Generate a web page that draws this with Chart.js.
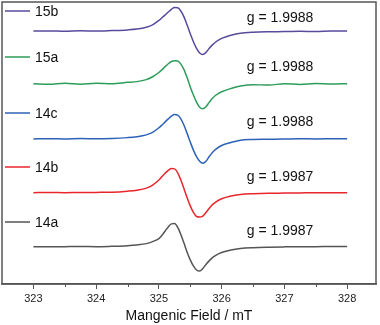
<!DOCTYPE html>
<html>
<head>
<meta charset="utf-8">
<script src="https://cdn.jsdelivr.net/npm/chart.js@4"></script>
<style>
  html, body { margin: 0; padding: 0; background: #fff; }
  canvas { display: block; }
</style>
</head>
<body>
<canvas id="epr" width="380" height="325"></canvas>
<script>
// magnetic field samples (mT), shared by all spectra
const fields = [323.0, 323.25, 323.5, 323.75, 324.0, 324.25, 324.5, 324.65, 324.8, 324.9,
  325.0, 325.05, 325.1, 325.15, 325.2, 325.25, 325.3, 325.35, 325.4, 325.45,
  325.5, 325.55, 325.6, 325.65, 325.7, 325.75, 325.8, 325.85, 325.9,
  326.0, 326.15, 326.3, 326.5, 326.75, 327.0, 327.25, 327.5, 327.75, 328.0];

const sampleNames = ["15b", "15a", "14c", "14b", "14a"];
const gValues = ["1.9988", "1.9988", "1.9988", "1.9987", "1.9987"];
// vertical stacking offset of each spectrum (a.u.)
const offsets = [24.93, 19.73, 14.3, 9.0, 3.68];

// derivative signals (a.u.)
const trace15b = [0.0, 0.02, -0.02, 0.03, 0.0, 0.05, 0.12, 0.2, 0.38, 0.62,
  1.05, 1.32, 1.6, 1.88, 2.15, 2.33, 2.3, 1.98, 1.4, 0.6,
  -0.25, -1.05, -1.7, -2.15, -2.3, -2.1, -1.72, -1.38, -1.1,
  -0.72, -0.4, -0.2, -0.1, -0.06, -0.05, -0.02, -0.04, 0.0, 0.0];
const trace15a = [0.0, -0.05, 0.05, -0.03, 0.06, 0.02, 0.15, 0.22, 0.42, 0.7,
  1.12, 1.4, 1.7, 1.98, 2.2, 2.27, 2.25, 1.95, 1.4, 0.6,
  -0.3, -1.1, -1.8, -2.3, -2.45, -2.25, -1.85, -1.45, -1.15,
  -0.78, -0.45, -0.22, -0.08, -0.12, 0.02, -0.06, 0.03, -0.02, 0.02];
const trace14c = [0.0, 0.03, 0.0, 0.04, 0.02, 0.05, 0.13, 0.22, 0.4, 0.65,
  1.1, 1.38, 1.68, 1.98, 2.25, 2.4, 2.35, 1.98, 1.35, 0.55,
  -0.3, -1.1, -1.75, -2.2, -2.4, -2.2, -1.75, -1.35, -1.05,
  -0.65, -0.35, -0.12, -0.06, -0.03, 0.0, 0.02, 0.0, 0.02, 0.03];
const trace14b = [0.0, 0.02, 0.0, 0.02, 0.03, 0.05, 0.15, 0.25, 0.45, 0.75,
  1.25, 1.6, 1.92, 2.2, 2.38, 2.35, 1.95, 1.25, 0.4,
  -0.5, -1.3, -1.95, -2.35, -2.4, -2.3, -1.95, -1.55, -1.2, -0.95,
  -0.6, -0.32, -0.18, -0.1, -0.05, -0.04, -0.02, 0.0, 0.0, 0.0];
const trace14a = [0.0, -0.02, 0.0, 0.02, 0.0, 0.04, 0.1, 0.17, 0.3, 0.5,
  0.8, 1.12, 1.55, 1.95, 2.25, 2.28, 1.9, 1.2, 0.35,
  -0.55, -1.3, -1.9, -2.3, -2.4, -2.15, -1.75, -1.4, -1.1, -0.88,
  -0.58, -0.32, -0.18, -0.1, -0.05, -0.02, 0.0, 0.0, 0.02, 0.02];

const traces = [trace15b, trace15a, trace14c, trace14b, trace14a];
const colors = ["#5a4a9c", "#2e9c5a", "#2e62b8", "#e8262c", "#555555"];

const xTicks = [323, 324, 325, 326, 327, 328];
const xMinorTicks = [323.5, 324.5, 325.5, 326.5, 327.5];

const FONT = "'Liberation Sans', Arial, sans-serif";

// label placement (pixels) for sample names and g-values
const nameY = [11, 57, 113, 167, 222];
const gY = [18, 67, 122, 177, 231];

const datasets = traces.map((t, i) => ({
  label: sampleNames[i],
  data: fields.map((f, k) => ({ x: f, y: offsets[i] + t[k] })),
  borderColor: colors[i],
  borderWidth: 1.5,
  pointRadius: 0,
  cubicInterpolationMode: "monotone",
  fill: false
}));

const decorations = {
  id: "decorations",
  afterDatasetsDraw(chart) {
    const { ctx, chartArea } = chart;
    const xs = chart.scales.x;
    ctx.save();
    // frame
    ctx.strokeStyle = "#555";
    ctx.lineWidth = 1.5;
    ctx.strokeRect(chartArea.left, chartArea.top, chartArea.right - chartArea.left, chartArea.bottom - chartArea.top);
    // minor ticks
    ctx.lineWidth = 1;
    xMinorTicks.forEach(v => {
      const px = Math.round(xs.getPixelForValue(v)) + 0.5;
      ctx.beginPath();
      ctx.moveTo(px, chartArea.bottom);
      ctx.lineTo(px, chartArea.bottom + 3);
      ctx.stroke();
    });
    // sample names with line keys
    ctx.font = "14px " + FONT;
    ctx.textBaseline = "middle";
    ctx.textAlign = "left";
    sampleNames.forEach((name, i) => {
      ctx.strokeStyle = colors[i];
      ctx.lineWidth = 1.5;
      ctx.beginPath();
      ctx.moveTo(5, nameY[i]);
      ctx.lineTo(30, nameY[i]);
      ctx.stroke();
      ctx.fillStyle = "#111";
      ctx.fillText(name, 35, nameY[i] + 1);
    });
    // g values
    ctx.font = "14px " + FONT;
    ctx.textAlign = "center";
    gValues.forEach((g, i) => {
      ctx.fillText("g = " + g, 280, gY[i]);
    });
    ctx.restore();
  }
};

new Chart(document.getElementById("epr"), {
  type: "line",
  data: { datasets },
  options: {
    responsive: false,
    animation: false,
    devicePixelRatio: 1,
    layout: { padding: { left: 2, right: 4, top: 2, bottom: 0 } },
    plugins: {
      legend: { display: false },
      tooltip: { enabled: false }
    },
    scales: {
      x: {
        type: "linear",
        min: 322.5,
        max: 328.46,
        afterBuildTicks: s => { s.ticks = xTicks.map(v => ({ value: v })); },
        ticks: {
          color: "#222",
          font: { family: FONT, size: 11 },
          padding: 3,
          maxRotation: 0
        },
        grid: { drawOnChartArea: false, tickLength: 5, color: "#555" },
        border: { color: "#555", width: 1.5 },
        title: {
          display: true,
          text: "Mangenic Field / mT",
          color: "#111",
          font: { family: FONT, size: 14 },
          padding: { top: 0, bottom: 0 }
        }
      },
      y: {
        display: false,
        min: 0,
        max: 27.8
      }
    }
  },
  plugins: [decorations]
});
</script>
</body>
</html>
